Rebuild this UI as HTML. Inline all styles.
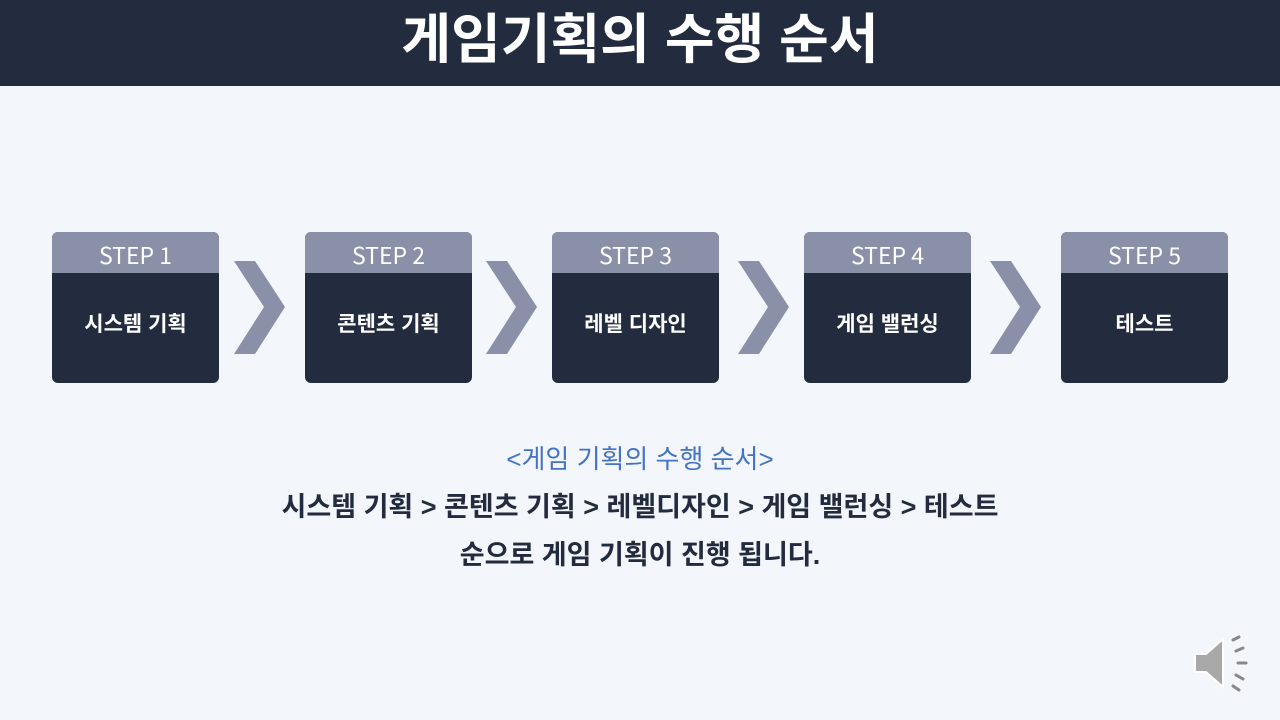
<!DOCTYPE html>
<html><head><meta charset="utf-8"><style>
body{margin:0;width:1280px;height:720px;background:#f3f6fa;position:relative;overflow:hidden;font-family:"Liberation Sans","Noto Sans CJK KR",sans-serif}
.bar{position:absolute;left:0;top:0;width:1280px;height:86px;background:#232b3e;color:#fff;font-size:54px;font-weight:bold;text-align:center;line-height:80px}
.box{position:absolute;top:232px;width:167px;height:151px;border-radius:6px;overflow:hidden;background:#232b3e}
.box .h{height:41px;background:#8a90a8;color:#fff;font-size:23px;text-align:center;line-height:44px;font-family:"Noto Sans CJK KR",sans-serif}
.box .b{color:#fff;font-size:21px;font-weight:bold;text-align:center;line-height:20px;padding-top:42px}
svg.c{position:absolute;top:261px}
.t{position:absolute;left:0;width:1280px;text-align:center;font-weight:bold}
</style></head><body>
<div class="bar">게임기획의 수행 순서</div>
<div class="box" style="left:52px"><div class="h">STEP 1</div><div class="b">시스템 기획</div></div>
<div class="box" style="left:305px"><div class="h">STEP 2</div><div class="b">콘텐츠 기획</div></div>
<div class="box" style="left:552px"><div class="h">STEP 3</div><div class="b">레벨 디자인</div></div>
<div class="box" style="left:804px"><div class="h">STEP 4</div><div class="b">게임 밸런싱</div></div>
<div class="box" style="left:1061px"><div class="h">STEP 5</div><div class="b">테스트</div></div>
<svg class="c" style="left:234px" width="52" height="94"><polygon points="0,0 21,0 51,46 21,93 0,93 30,46" fill="#8a90a8"/></svg>
<svg class="c" style="left:486px" width="52" height="94"><polygon points="0,0 21,0 51,46 21,93 0,93 30,46" fill="#8a90a8"/></svg>
<svg class="c" style="left:738px" width="52" height="94"><polygon points="0,0 21,0 51,46 21,93 0,93 30,46" fill="#8a90a8"/></svg>
<svg class="c" style="left:990px" width="52" height="94"><polygon points="0,0 21,0 51,46 21,93 0,93 30,46" fill="#8a90a8"/></svg>
<div class="t" style="top:439px;font-size:26px;color:#4472c4;font-weight:normal">&lt;게임 기획의 수행 순서&gt;</div>
<div class="t" style="top:485px;font-size:27px;color:#232b3e">시스템 기획 &gt; 콘텐츠 기획 &gt; 레벨디자인 &gt; 게임 밸런싱 &gt; 테스트</div>
<div class="t" style="top:533px;font-size:27px;color:#232b3e">순으로 게임 기획이 진행 됩니다.</div>
<svg style="position:absolute;left:1192px;top:634px" width="64" height="62">
<polygon points="3,20 14,20 31,5 31,53 14,38 3,38" fill="#a8a8a8" stroke="#fff" stroke-width="2"/>
<g stroke="#888" stroke-width="3" stroke-linecap="round">
<line x1="41" y1="6" x2="47" y2="3"/><line x1="44" y1="17" x2="51" y2="14"/><line x1="46" y1="29" x2="54" y2="29"/><line x1="44" y1="41" x2="51" y2="45"/><line x1="41" y1="52" x2="47" y2="56"/></g>
</svg>
</body></html>
